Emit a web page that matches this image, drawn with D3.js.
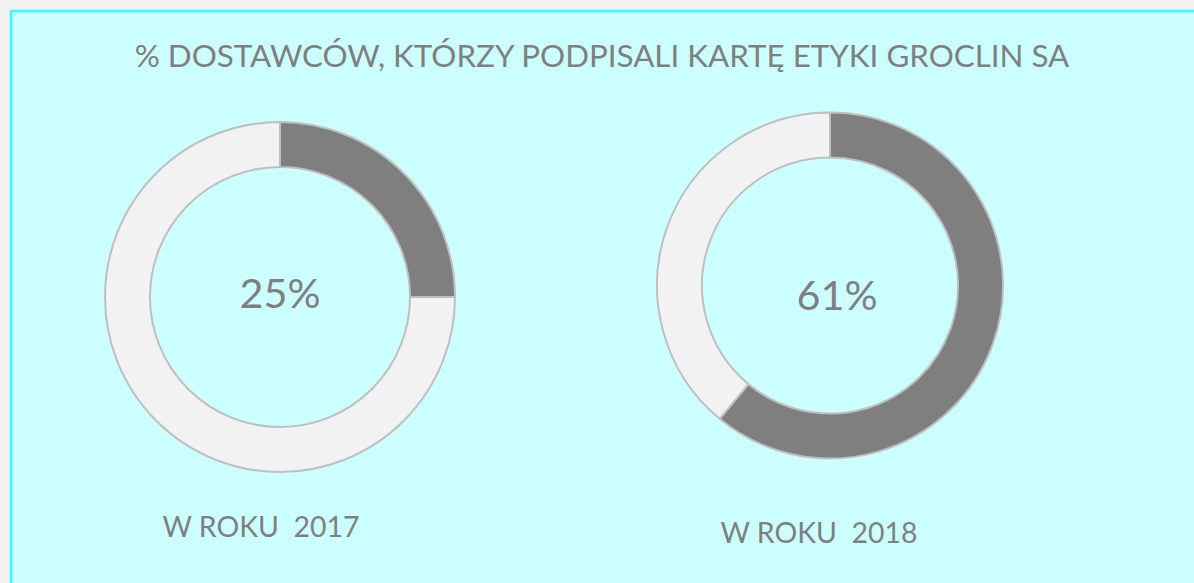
<!DOCTYPE html>
<meta charset="utf-8">
<head>
  <meta charset="utf-8">
  <title>% dostawcow - karta etyki</title>
  <script src="https://d3js.org/d3.v7.min.js"></script>
</head>
<style>
body { margin: 0; background: #f2f2f2; }
text { font-family: Lato, "Open Sans", sans-serif; fill: #7f7f7f; }
</style>
<body>
<script>

// data
var years = ["2017", "2018"];
var signedPct = [25, 61];
var yearLabels = ["W ROKU 2017", "W ROKU 2018"];
var title = "% DOSTAWCÓW, KTÓRZY PODPISALI KARTĘ ETYKI GROCLIN SA";

var width = 1194, height = 583;

var svg = d3.select("body").append("svg")
    .attr("width", width)
    .attr("height", height);

// cyan panel
svg.append("rect")
    .attr("x", 11).attr("y", 11)
    .attr("width", width + 20).attr("height", height + 20)
    .attr("fill", "#ccffff")
    .attr("stroke", "#33ffff")
    .attr("stroke-width", 2.5);

// shrink/grow font so text spans the wanted width
function fit(sel, target) {
  var fs = parseFloat(sel.attr("font-size"));
  var w = sel.node().getComputedTextLength();
  sel.attr("font-size", fs * target / w);
}

var t = svg.append("text")
    .attr("x", 602).attr("y", 67)
    .attr("text-anchor", "middle")
    .attr("font-size", 30)
    .text(title);
fit(t, 935);

// donut positions
var donuts = [
  {cx: 280, cy: 297, r: 175, ir: 130, lx: 261, ly: 537, tx: 280},
  {cx: 830, cy: 285.5, r: 173, ir: 128, lx: 819, ly: 543, tx: 837}
];

var pie = d3.pie().sort(null).value(function(d) { return d; });
var colors = ["#7f7f7f", "#f2f2f2"];

years.forEach(function(year, i) {
  var p = donuts[i];
  var arc = d3.arc().innerRadius(p.ir).outerRadius(p.r);
  var g = svg.append("g")
      .attr("transform", "translate(" + p.cx + "," + p.cy + ")");

  g.selectAll("path")
      .data(pie([signedPct[i], 100 - signedPct[i]]))
    .enter().append("path")
      .attr("d", arc)
      .attr("fill", function(d, j) { return colors[j]; })
      .attr("stroke", "#bfbfbf")
      .attr("stroke-width", 2);

  var c = svg.append("text")
      .attr("x", p.tx).attr("y", p.cy + (i == 0 ? 11 : 24.5))
      .attr("text-anchor", "middle")
      .attr("font-size", 40)
      .text(signedPct[i] + "%");
  fit(c, 81);

  var l = svg.append("text")
      .attr("x", p.lx).attr("y", p.ly)
      .attr("text-anchor", "middle")
      .attr("font-size", 26)
      .attr("xml:space", "preserve")
      .text(yearLabels[i].replace("ROKU ", "ROKU  "));
  fit(l, 197);
});

</script>
</body>
